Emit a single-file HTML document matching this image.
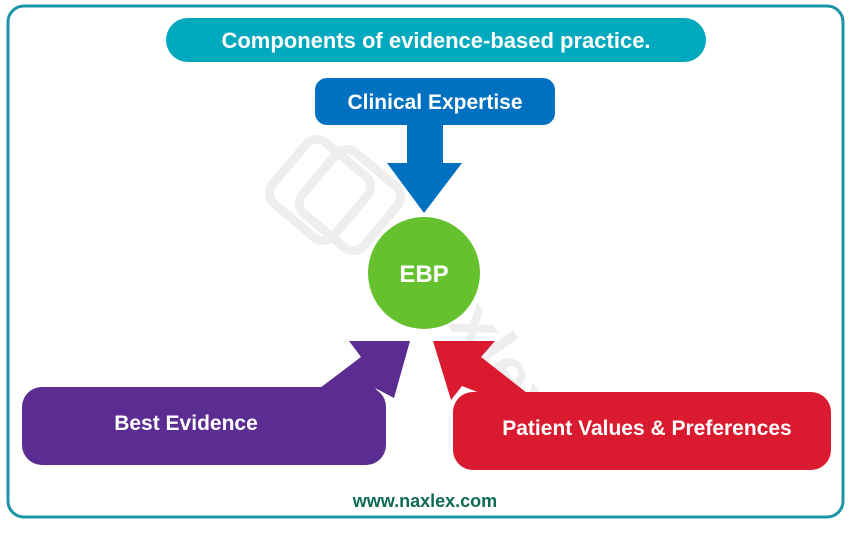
<!DOCTYPE html>
<html><head><style>
body{margin:0;background:#fff;width:851px;height:530px;overflow:hidden;font-family:"Liberation Sans",sans-serif}
</style></head><body>
<svg width="851" height="530" xmlns="http://www.w3.org/2000/svg" font-family="Liberation Sans, sans-serif" font-weight="bold">
<rect x="8" y="6" width="835" height="511" rx="16" fill="#fff" stroke="#1b94a8" stroke-width="3"/>
<g fill="none" stroke="#eeeeee" stroke-width="9">
<rect x="280" y="150" width="80" height="80" rx="14" transform="rotate(40 320 190)"/>
<rect x="310" y="160" width="80" height="80" rx="14" transform="rotate(40 350 200)"/>
</g>
<text x="395" y="250" font-size="70" fill="#eeeeee" transform="rotate(55 395 250)">Naxlex</text>
<rect x="166" y="18" width="540" height="44" rx="22" fill="#00a9bd"/>
<text x="436" y="48" font-size="22" fill="#fff" text-anchor="middle">Components of evidence-based practice.</text>
<rect x="315" y="78" width="240" height="47" rx="12" fill="#0070c0"/>
<text x="435" y="109" font-size="21" fill="#fff" text-anchor="middle">Clinical Expertise</text>
<polygon points="407,125 443,125 443,163 462,163 424,213 387,163 407,163" fill="#0070c0"/>
<circle cx="424" cy="273" r="56" fill="#66c12f"/>
<text x="424" y="282" font-size="24" fill="#fff" text-anchor="middle">EBP</text>
<polygon points="320,388 361,357 349,341 410,341 394,398 375,388 385,400 360,400" fill="#5b2c91"/>
<rect x="22" y="387" width="364" height="78" rx="20" fill="#5b2c91"/>
<text x="186" y="430" font-size="21" fill="#fff" text-anchor="middle">Best Evidence</text>
<polygon points="433,341 495,341 481,357 527,393 480,393 462,386 451,400" fill="#d91a2f"/>
<rect x="453" y="392" width="378" height="78" rx="20" fill="#d91a2f"/>
<text x="647" y="435" font-size="21" fill="#fff" text-anchor="middle">Patient Values &amp; Preferences</text>
<text x="425" y="507" font-size="18" fill="#0d6b55" text-anchor="middle">www.naxlex.com</text>
</svg>
</body></html>
